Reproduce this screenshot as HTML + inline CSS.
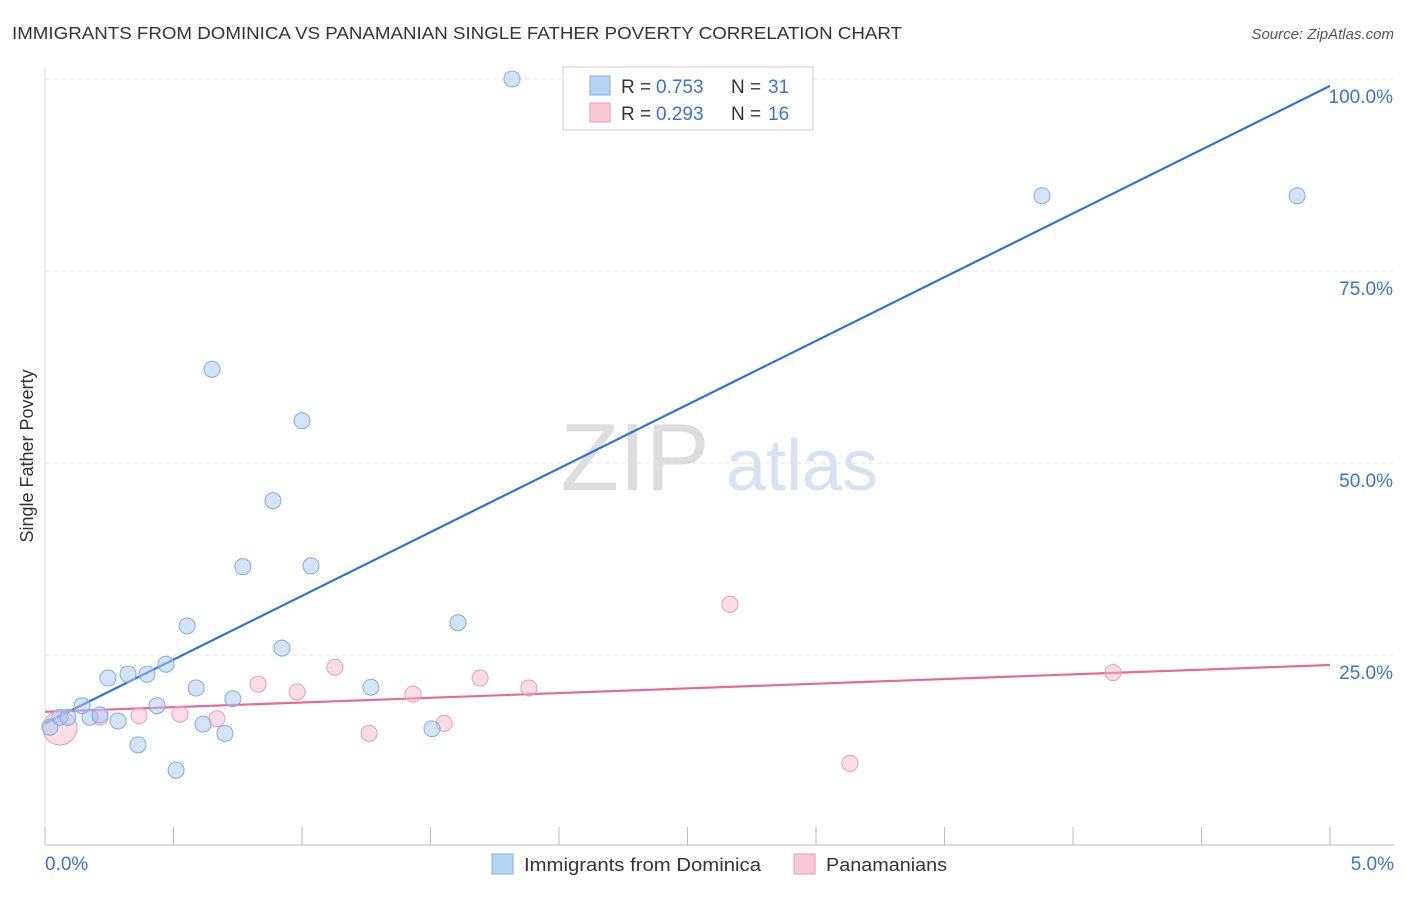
<!DOCTYPE html>
<html><head><meta charset="utf-8"><style>
body{margin:0;background:#fff;font-family:"Liberation Sans",sans-serif;}
svg text{font-family:"Liberation Sans",sans-serif;}
</style></head><body>
<svg id="c" width="1406" height="892">
<text x="12" y="39" font-size="17.5" fill="#333" textLength="890" lengthAdjust="spacingAndGlyphs">IMMIGRANTS FROM DOMINICA VS PANAMANIAN SINGLE FATHER POVERTY CORRELATION CHART</text>
<text x="1394" y="39" font-size="15" fill="#555" text-anchor="end" font-style="italic">Source: ZipAtlas.com</text>
<text x="33" y="456" font-size="18" fill="#333" text-anchor="middle" transform="rotate(-90 33 456)">Single Father Poverty</text>
<g>
<text x="635" y="490" font-size="96" fill="#ddd" text-anchor="middle" font-family="Liberation Serif,serif">ZIP</text>
<text x="802" y="490" font-size="72" fill="#d5e3f5" text-anchor="middle">atlas</text>
</g>
<g id="grid"></g><g id="axes"></g><g id="lines"></g><g id="pts"></g>
<g>
<rect x="563" y="67" width="250" height="63" fill="#fff" stroke="#ccc"/>
<rect x="590" y="76" width="20" height="19" fill="#b8d4f5" stroke="#7faee8"/>
<text x="621" y="93" font-size="19" fill="#333">R =</text>
<text x="656" y="93" font-size="19" fill="#3a73d1">0.753</text>
<text x="731" y="93" font-size="19" fill="#333">N =</text>
<text x="768" y="93" font-size="19" fill="#3a73d1">31</text>
<rect x="590" y="103" width="20" height="19" fill="#fbc8d8" stroke="#ee9ab5"/>
<text x="621" y="120" font-size="19" fill="#333">R =</text>
<text x="656" y="120" font-size="19" fill="#3a73d1">0.293</text>
<text x="731" y="120" font-size="19" fill="#333">N =</text>
<text x="768" y="120" font-size="19" fill="#3a73d1">16</text>
</g>
<g>
<rect x="492" y="854" width="21" height="20" fill="#b8d4f5" stroke="#7faee8"/>
<text x="524" y="871" font-size="18" fill="#333" textLength="237" lengthAdjust="spacingAndGlyphs">Immigrants from Dominica</text>
<rect x="794" y="854" width="21" height="20" fill="#fbc8d8" stroke="#ee9ab5"/>
<text x="826" y="871" font-size="18" fill="#333" textLength="121" lengthAdjust="spacingAndGlyphs">Panamanians</text>
</g>
</svg>
<script>
const yTicks=[25,50,75,100];
const yTickLabels=["25.0%","50.0%","75.0%","100.0%"];
const xTickLabels=["0.0%","5.0%"];
const blueX=[0.019,0.058,0.089,0.144,0.175,0.214,0.245,0.284,0.323,0.362,0.397,0.436,0.471,0.51,0.553,0.588,0.615,0.65,0.7,0.731,0.77,0.887,0.922,1.0,1.035,1.268,1.506,1.607,1.817,3.879,4.872];
const blueY=[15.6,16.9,16.9,18.4,16.9,17.2,22.0,16.4,22.5,13.3,22.5,18.4,23.8,10.0,28.8,20.7,16.0,62.2,14.8,19.3,36.5,45.1,25.9,55.5,36.6,20.8,15.4,29.2,100,84.8,84.8];
const pinkX=[0.058,0.214,0.366,0.525,0.669,0.829,0.981,1.128,1.261,1.432,1.553,1.693,1.883,2.665,3.132,4.156];
const pinkY=[15.5,16.9,17.1,17.3,16.7,21.2,20.2,23.4,14.8,19.9,16.1,22.0,20.7,31.6,10.9,22.7];
const blueLine=[16.1,99.1];
const pinkLine=[17.6,23.7];
const X=v=>45+v*257, Y=v=>847-v*7.68;
const NS="http://www.w3.org/2000/svg";
function mk(t,a,p){const e=document.createElementNS(NS,t);for(const k in a)e.setAttribute(k,a[k]);p.appendChild(e);return e;}
const grid=document.getElementById('grid'),axes=document.getElementById('axes'),lines=document.getElementById('lines'),pts=document.getElementById('pts');
yTicks.forEach((t,i)=>{
 const g=mk('line',{x1:45,x2:1394,y1:Y(t),y2:Y(t),stroke:'#e4e4e4','stroke-dasharray':'4,4'},grid);
 
 
 const l=mk('text',{x:1393,y:Y(t)+24,'font-size':19,fill:'#3a73d1','text-anchor':'end'},axes);
 l.textContent=yTickLabels[i];
 
 
});
const ax=mk('line',{x1:45,x2:1394,y1:845,y2:845,stroke:'#bbb'},axes);


const ay=mk('line',{x1:45,x2:45,y1:68,y2:845,stroke:'#ddd'},axes);


for(let i=0;i<=10;i++){const t=mk('line',{x1:X(i*0.5),x2:X(i*0.5),y1:827,y2:845,stroke:'#bbb'},axes);
 
 }
[[0,'start'],[5,'end']].forEach(([v,a],i)=>{const t=mk('text',{x:i?1394:45,y:870,'font-size':19,fill:'#3a73d1','text-anchor':a},axes);t.textContent=xTickLabels[i];
 
 });
const bl=mk('line',{x1:X(0),y1:Y(blueLine[0]),x2:X(5),y2:Y(blueLine[1]),stroke:'#2a72d8','stroke-width':2.2},lines);


const pl=mk('line',{x1:X(0),y1:Y(pinkLine[0]),x2:X(5),y2:Y(pinkLine[1]),stroke:'#e86a92','stroke-width':2.2},lines);


pinkX.forEach((x,i)=>{const c=mk('circle',{cx:X(x),cy:Y(pinkY[i]),r:i==0?17:8,fill:'rgba(248,180,202,0.45)',stroke:'#ee9ab5','stroke-width':1},pts);
 
 });
blueX.forEach((x,i)=>{const c=mk('circle',{cx:X(x),cy:Y(blueY[i]),r:8,fill:'rgba(170,200,240,0.5)',stroke:'#7faee8','stroke-width':1},pts);
 
 });
</script>
</body></html>
